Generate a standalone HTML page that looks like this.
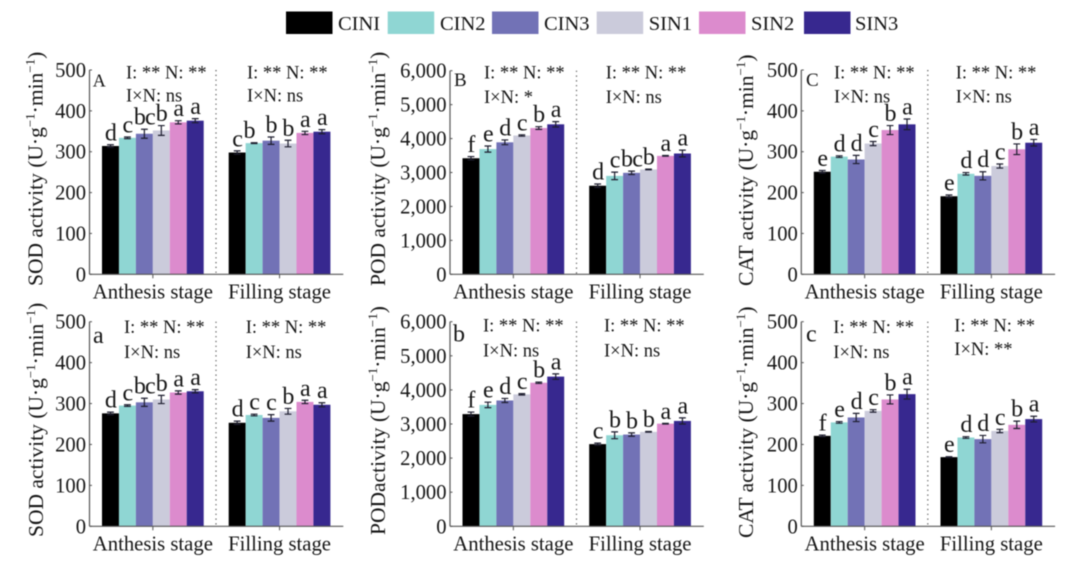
<!DOCTYPE html>
<html lang="en">
<head>
<meta charset="utf-8">
<title>Enzyme activity bar charts</title>
<style>
html,body{margin:0;padding:0;background:#fff;width:1080px;height:569px;overflow:hidden}
svg{display:block;filter:blur(0.5px)}
text{font-family:"Liberation Serif",serif;fill:#161616}
</style>
</head>
<body>
<svg id="chart" width="1080" height="569" viewBox="0 0 1080 569" xmlns="http://www.w3.org/2000/svg">
  <rect x="0" y="0" width="1080" height="569" fill="#ffffff"/>
  <g font-size="20.5">
    <g><rect x="286" y="11.5" width="46.5" height="22.5" fill="#000000"/><text x="338" y="30">CINI</text></g>
    <g><rect x="387.7" y="11.5" width="46.5" height="22.5" fill="#8fd6d3"/><text x="440" y="30">CIN2</text></g>
    <g><rect x="492" y="11.5" width="46.5" height="22.5" fill="#7272b6"/><text x="544" y="30">CIN3</text></g>
    <g><rect x="596.7" y="11.5" width="46.5" height="22.5" fill="#cbcbdb"/><text x="648.7" y="30">SIN1</text></g>
    <g><rect x="699" y="11.5" width="46.5" height="22.5" fill="#dc8bcd"/><text x="751" y="30">SIN2</text></g>
    <g><rect x="804" y="11.5" width="46.5" height="22.5" fill="#37288f"/><text x="855" y="30">SIN3</text></g>
  </g>
</svg>
<script>
// Shared categories and tick labels
const treatments = ['CIN1','CIN2','CIN3','SIN1','SIN2','SIN3'];
const stages = ['Anthesis stage','Filling stage'];
const ticks500 = [0,100,200,300,400,500];
const ticks6000 = [0,1000,2000,3000,4000,5000,6000];

// Panel A: SOD
const sodTopValues = [[314,334,344,352,372,376],[298,321,327,320,346,349]];
const sodTopErrors = [[3,2,11,12,4,5],[4,1,9,8,4,5]];
const sodTopLetters = [['d','c','bc','b','a','a'],['c','b','b','b','a','a']];
// Panel B: POD
const podTopValues = [[3420,3690,3890,4090,4310,4420],[2610,2900,2990,3090,3490,3560]];
const podTopErrors = [[50,90,70,20,40,80],[50,110,50,10,10,100]];
const podTopLetters = [['f','e','d','c','b','a'],['d','c','bc','b','a','a']];
// Panel C: CAT
const catTopValues = [[251,288,281,320,353,367],[191,246,241,265,306,322]];
const catTopErrors = [[3,2,10,5,11,13],[3,3,10,5,13,8]];
const catTopLetters = [['e','d','d','c','b','a'],['e','d','d','c','b','a']];
// Panel a: SOD
const sodLowValues = [[276,295,303,310,327,330],[253,272,265,281,304,297]];
const sodLowErrors = [[3,2,10,10,4,4],[4,2,8,7,4,5]];
const sodLowLetters = [['d','c','bc','b','a','a'],['d','c','c','b','a','a']];
// Panel b: POD
const podLowValues = [[3290,3560,3690,3870,4210,4390],[2410,2670,2690,2770,3010,3090]];
const podLowErrors = [[60,80,60,20,20,80],[30,100,50,10,10,90]];
const podLowLetters = [['f','e','d','c','b','a'],['c','b','b','b','a','a']];
// Panel c: CAT
const catLowValues = [[221,254,266,282,310,323],[169,217,213,233,248,262]];
const catLowErrors = [[2,2,10,3,11,12],[1,2,9,4,9,7]];
const catLowLetters = [['f','e','d','c','b','a'],['e','d','d','c','b','a']];

const colors = ['#000000','#8fd6d3','#7272b6','#cbcbdb','#dc8bcd','#37288f'];
const NS = 'http://www.w3.org/2000/svg';
const svg = document.getElementById('chart');

const panels = [
  {id:'a-upper',tag:'A',tagSize:18,tagX:92.7,tagY:86.5,ax:89.5,y0:274.3,yTop:70,max:500,ticks:ticks500,
   title:'SOD activity',tx:42.7,tb:286,values:sodTopValues,errors:sodTopErrors,letters:sodTopLetters,nudge:{'1-1':-5},
   notes:[{x:126,y1:78.3,y2:101.7,t2:'I×N: ns'},{x:247,y1:78.3,y2:101.7,t2:'I×N: ns'}]},
  {id:'b-upper',tag:'B',tagSize:19,tagX:454,tagY:86,ax:450,y0:274.3,yTop:70.7,max:6000,ticks:ticks6000,
   title:'POD activity',tx:385,tb:286,values:podTopValues,errors:podTopErrors,letters:podTopLetters,nudge:{},
   notes:[{x:484,y1:78.7,y2:103,t2:'I×N: *'},{x:605.7,y1:78.7,y2:103,t2:'I×N: ns'}]},
  {id:'c-upper',tag:'C',tagSize:19,tagX:806,tagY:86,ax:801.3,y0:274.3,yTop:70,max:500,ticks:ticks500,
   title:'CAT activity',tx:753,tb:286,values:catTopValues,errors:catTopErrors,letters:catTopLetters,nudge:{},
   notes:[{x:834,y1:78.7,y2:102.7,t2:'I×N: ns'},{x:955.7,y1:78.7,y2:102.7,t2:'I×N: ns'}]},
  {id:'a-lower',tag:'a',tagSize:24,tagX:93,tagY:343,ax:89.5,y0:526.3,yTop:321.7,max:500,ticks:ticks500,
   title:'SOD activity',tx:43,tb:537,values:sodLowValues,errors:sodLowErrors,letters:sodLowLetters,nudge:{},
   notes:[{x:124,y1:333,y2:358,t2:'I×N: ns'},{x:245.7,y1:333,y2:358,t2:'I×N: ns'}]},
  {id:'b-lower',tag:'b',tagSize:24,tagX:453,tagY:341.7,ax:450,y0:526.3,yTop:321.7,max:6000,ticks:ticks6000,
   title:'PODactivity',tx:385,tb:535,values:podLowValues,errors:podLowErrors,letters:podLowLetters,nudge:{},
   notes:[{x:483,y1:331.7,y2:356.7,t2:'I×N: ns'},{x:604,y1:331.7,y2:356.7,t2:'I×N: ns'}]},
  {id:'c-lower',tag:'c',tagSize:24,tagX:806,tagY:341.7,ax:801.3,y0:526.3,yTop:321.7,max:500,ticks:ticks500,
   title:'CAT activity',tx:753,tb:538,values:catLowValues,errors:catLowErrors,letters:catLowLetters,nudge:{},
   notes:[{x:833.3,y1:333,y2:358,t2:'I×N: ns'},{x:954.3,y1:331.7,y2:355,t2:'I×N: **'}]}
];

const BAR_W = 16.95;
const GROUP_OFFSETS = [12.5,139.2];
const AXIS_LEN = 253.8;

function mk(tag, attrs, parent, txt){
  const e = document.createElementNS(NS, tag);
  for (const k in attrs) e.setAttribute(k, attrs[k]);
  if (txt !== undefined) e.textContent = txt;
  parent.appendChild(e);
  return e;
}
function xScale(p, g, i){ return p.ax + GROUP_OFFSETS[g] + i * BAR_W; }
function yScale(p, v){ return p.y0 - (v / p.max) * (p.y0 - p.yTop); }
function fmt(v){ return v >= 1000 ? Math.floor(v/1000) + ',' + String(v%1000).padStart(3,'0') : String(v); }

panels.forEach(function(p){
  const g = mk('g', {}, svg);
  
  

  // bars, error bars, significance letters
  p.values.forEach(function(series, gi){
    series.forEach(function(v, i){
      const x = xScale(p, gi, i);
      const y = yScale(p, v);
      const bar = mk('rect', {x:x, y:y, width:BAR_W, height:p.y0 - y, fill:colors[i]}, g);
      
      
      const cx = x + BAR_W / 2;
      const hi = yScale(p, v + p.errors[gi][i]);
      const lo = yScale(p, v - p.errors[gi][i]);
      const eb = mk('path', {d:'M'+(cx-3.4)+' '+hi+'H'+(cx+3.4)+'M'+cx+' '+hi+'V'+lo+'M'+(cx-3.4)+' '+lo+'H'+(cx+3.4), stroke:'#1d1d2e', 'stroke-width':1.2, fill:'none'}, g);
      
      
      const dx = p.nudge[gi + '-' + i] || 0;
      const lab = mk('text', {x:cx + dx, y:hi - 4.5, 'text-anchor':'middle', 'font-size':24, 'letter-spacing':-0.8}, g, p.letters[gi][i]);
      
      
    });
  });

  // axes
  const yAxis = mk('line', {x1:p.ax, x2:p.ax, y1:p.yTop, y2:p.y0, stroke:'#555', 'stroke-width':1.2}, g);
  
  
  const xAxis = mk('line', {x1:p.ax, x2:p.ax + AXIS_LEN, y1:p.y0, y2:p.y0, stroke:'#555', 'stroke-width':1.2}, g);
  
  

  p.ticks.forEach(function(t){
    const y = yScale(p, t);
    const tm = mk('line', {x1:p.ax, x2:p.ax + 2.5, y1:y, y2:y, stroke:'#555', 'stroke-width':1}, g);
    
    
    const tl = mk('text', {x:p.ax - 3.5, y:y + 7, 'text-anchor':'end', 'font-size':20.6}, g, fmt(t));
    
    
  });

  stages.forEach(function(s, i){
    const cx = xScale(p, i, 3);
    const tm = mk('line', {x1:cx, x2:cx, y1:p.y0, y2:p.y0 + 4, stroke:'#555', 'stroke-width':1}, g);
    
    
    const tl = mk('text', {x:cx, y:p.y0 + 24, 'text-anchor':'middle', 'font-size':20.7}, g, s);
    
    
  });

  // divider between stages
  const div = mk('line', {x1:p.ax + 126.5, x2:p.ax + 126.5, y1:p.yTop, y2:p.y0, stroke:'#555', 'stroke-width':1.2, 'stroke-dasharray':'1.2 3.6'}, g);
  
  

  // panel tag
  const tag = mk('text', {x:p.tagX, y:p.tagY, 'font-size':p.tagSize}, g, p.tag);
  
  

  // stats annotations
  p.notes.forEach(function(n){
    const l1 = mk('text', {x:n.x, y:n.y1, 'font-size':18.5}, g, 'I: ** N: **');
    
    
    const l2 = mk('text', {x:n.x, y:n.y2, 'font-size':18.5}, g, n.t2);
    
    
  });

  // y-axis title
  const title = mk('text', {transform:'translate(' + p.tx + ' ' + p.tb + ') rotate(-90)', 'font-size':21.5}, g);
  
  
  mk('tspan', {}, title, p.title + ' (U·g');
  mk('tspan', {dy:-8, 'font-size':13}, title, '−1');
  mk('tspan', {dy:8}, title, '·min');
  mk('tspan', {dy:-8, 'font-size':13}, title, '−1');
  mk('tspan', {dy:8}, title, ')');
});
</script>
</body>
</html>
